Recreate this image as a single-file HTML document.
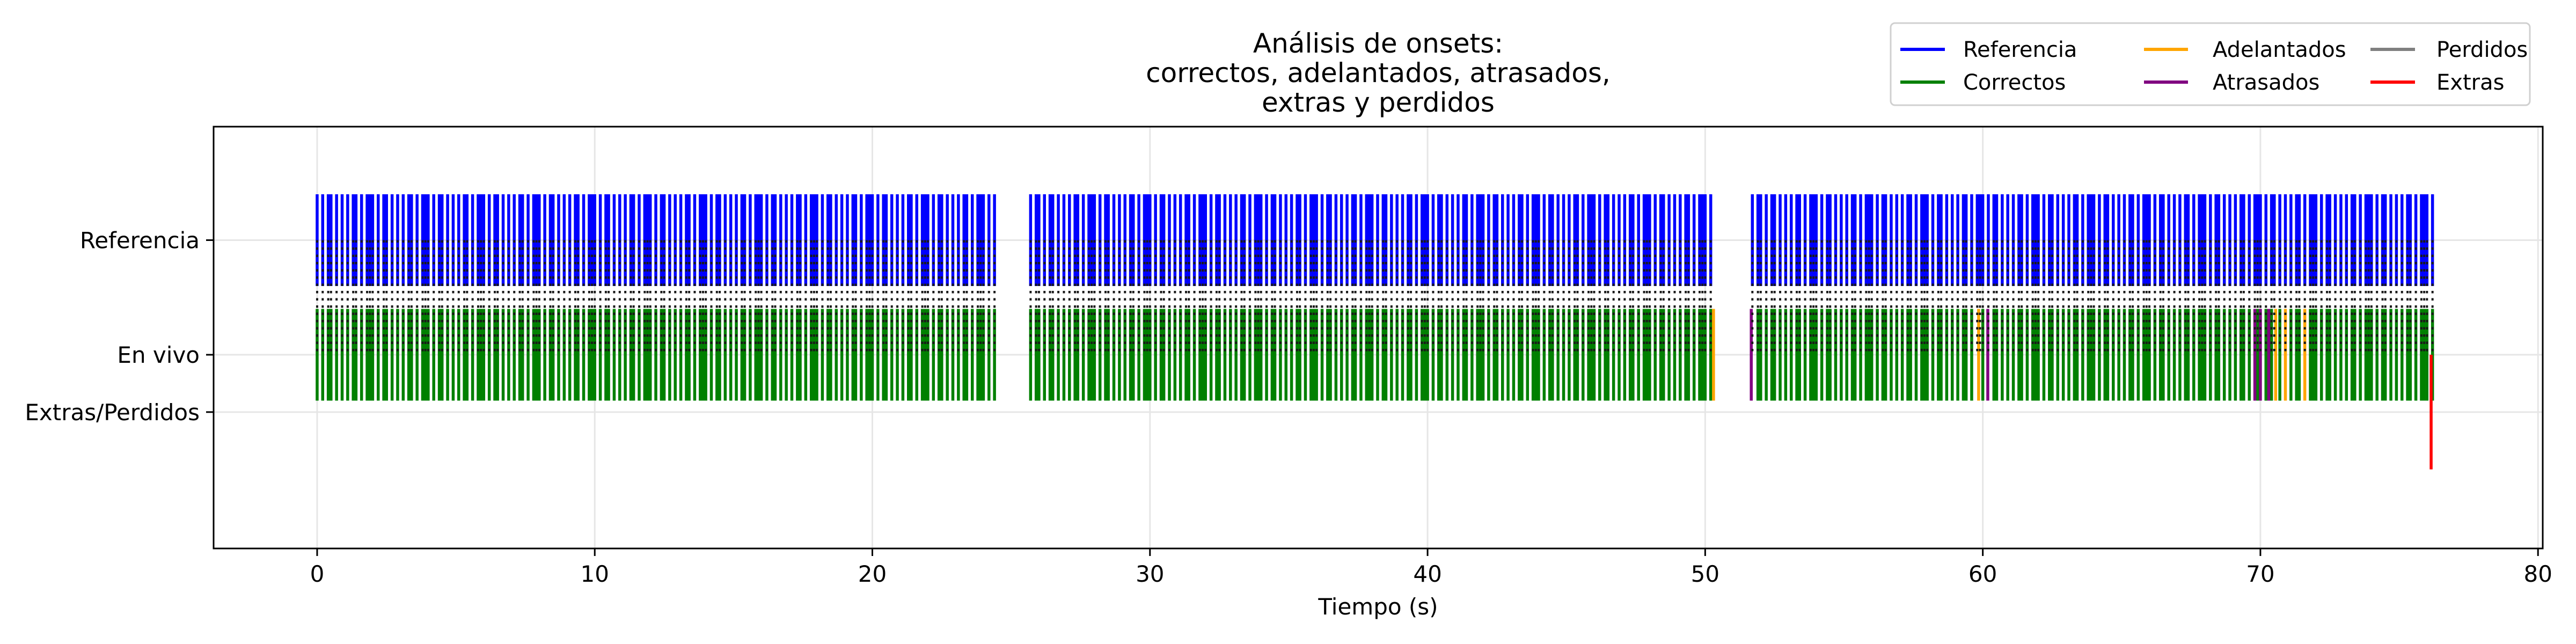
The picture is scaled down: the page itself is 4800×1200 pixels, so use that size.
<!DOCTYPE html>
<html><head><meta charset="utf-8"><style>
html,body{margin:0;padding:0;background:#fff}
svg{display:block;font-family:"DejaVu Sans","Liberation Sans",sans-serif}
</style></head><body>
<svg id="chart" width="4800" height="1200" viewBox="0 0 4800 1200" xmlns="http://www.w3.org/2000/svg">
<rect width="4800" height="1200" fill="#fff"/>
<g id="grid"></g>
<g id="marks"></g>
<rect x="398" y="236" width="4340" height="786" fill="none" stroke="#000" stroke-width="3"/>
<g id="axes"></g>
<g font-size="50" text-anchor="middle" fill="#000">
<text x="2568" y="98">Análisis de onsets:</text>
<text x="2568" y="153">correctos, adelantados, atrasados,</text>
<text x="2568" y="208">extras y perdidos</text>
</g>
<text x="2568" y="1145" font-size="42" text-anchor="middle">Tiempo (s)</text>
<g>
<rect x="3523" y="43" width="1191" height="153" rx="8" fill="#fff" stroke="#d0d0d0" stroke-width="3"/>
<g font-size="40">
<g><line x1="3541" x2="3624" y1="92" y2="92" stroke="blue" stroke-width="6"/><text x="3658" y="106">Referencia</text></g>
<g><line x1="3541" x2="3624" y1="153" y2="153" stroke="green" stroke-width="6"/><text x="3658" y="167">Correctos</text></g>
<g><line x1="3995" x2="4077" y1="92" y2="92" stroke="orange" stroke-width="6"/><text x="4123" y="106">Adelantados</text></g>
<g><line x1="3995" x2="4077" y1="153" y2="153" stroke="purple" stroke-width="6"/><text x="4123" y="167">Atrasados</text></g>
<g><line x1="4417" x2="4500" y1="92" y2="92" stroke="gray" stroke-width="6"/><text x="4540" y="106">Perdidos</text></g>
<g><line x1="4417" x2="4500" y1="153" y2="153" stroke="red" stroke-width="6"/><text x="4540" y="167">Extras</text></g>
</g></g>
</svg>
<script>
const refOnsets = [
0.0,0.2,0.4,0.5,0.7,0.9,1.1,1.3,1.4,1.6,1.8,1.9,2.0,2.2,2.4,2.5,2.7,2.9,3.1,3.3,3.4,3.6,3.8,3.9,4.0,4.2,4.4,4.5,4.7,4.9,5.1,5.3,5.4,5.6,5.8,5.9,
6.0,6.2,6.4,6.5,6.7,6.9,7.1,7.3,7.4,7.6,7.8,7.9,8.0,8.2,8.4,8.5,8.7,8.9,9.1,9.3,9.4,9.6,9.8,9.9,10.0,10.2,10.4,10.5,10.7,10.9,11.1,11.3,11.4,11.6,11.8,11.9,
12.0,12.2,12.4,12.5,12.7,12.9,13.1,13.3,13.4,13.6,13.8,13.9,14.0,14.2,14.4,14.5,14.7,14.9,15.1,15.3,15.4,15.6,15.8,15.9,16.0,16.2,16.4,16.5,16.7,16.9,17.1,17.3,17.4,17.6,17.8,17.9,
18.0,18.2,18.4,18.5,18.7,18.9,19.1,19.3,19.4,19.6,19.8,19.9,20.0,20.2,20.4,20.5,20.7,20.9,21.1,21.3,21.4,21.6,21.8,21.9,22.0,22.2,22.4,22.5,22.7,22.9,23.1,23.3,23.4,23.6,23.8,23.9,24.0,24.2,24.4,
25.7,25.9,26.0,26.2,26.4,26.5,26.7,26.9,27.1,27.3,27.4,27.6,27.8,27.9,28.0,28.2,28.4,28.5,28.7,28.9,29.1,29.3,29.4,29.6,29.8,29.9,30.0,30.2,30.4,30.5,30.7,30.9,31.1,31.3,31.4,31.6,31.8,31.9,
32.0,32.2,32.4,32.5,32.7,32.9,33.1,33.3,33.4,33.6,33.8,33.9,34.0,34.2,34.4,34.5,34.7,34.9,35.1,35.3,35.4,35.6,35.8,35.9,36.0,36.2,36.4,36.5,36.7,36.9,37.1,37.3,37.4,37.6,37.8,37.9,
38.0,38.2,38.4,38.5,38.7,38.9,39.1,39.3,39.4,39.6,39.8,39.9,40.0,40.2,40.4,40.5,40.7,40.9,41.1,41.3,41.4,41.6,41.8,41.9,42.0,42.2,42.4,42.5,42.7,42.9,43.1,43.3,43.4,43.6,43.8,43.9,
44.0,44.2,44.4,44.5,44.7,44.9,45.1,45.3,45.4,45.6,45.8,45.9,46.0,46.2,46.4,46.5,46.7,46.9,47.1,47.3,47.4,47.6,47.8,47.9,48.0,48.2,48.4,48.5,48.7,48.9,49.1,49.3,49.4,49.6,49.8,49.9,50.0,50.2,
51.7,51.9,52.0,52.2,52.4,52.5,52.7,52.9,53.1,53.3,53.4,53.6,53.8,53.9,54.0,54.2,54.4,54.5,54.7,54.9,55.1,55.3,55.4,55.6,55.8,55.9,56.0,56.2,56.4,56.5,56.7,56.9,57.1,57.3,57.4,57.6,57.8,57.9,
58.0,58.2,58.4,58.5,58.7,58.9,59.1,59.3,59.4,59.6,59.8,59.9,60.0,60.2,60.4,60.5,60.7,60.9,61.1,61.3,61.4,61.6,61.8,61.9,62.0,62.2,62.4,62.5,62.7,62.9,63.1,63.3,63.4,63.6,63.8,63.9,
64.0,64.2,64.4,64.5,64.7,64.9,65.1,65.3,65.4,65.6,65.8,65.9,66.0,66.2,66.4,66.5,66.7,66.9,67.1,67.3,67.4,67.6,67.8,67.9,68.0,68.2,68.4,68.5,68.7,68.9,69.1,69.3,69.4,69.6,69.8,69.9,
70.0,70.2,70.4,70.5,70.7,70.9,71.1,71.3,71.4,71.6,71.8,71.9,72.0,72.2,72.4,72.5,72.7,72.9,73.1,73.3,73.4,73.6,73.8,73.9,74.0,74.2,74.4,74.5,74.7,74.9,75.1,75.3,75.4,75.6,75.8,75.9,76.0,76.2
];
const earlyOnsets = [50.3, 59.85, 70.55, 70.9, 71.6];
const lateOnsets = [51.66, 60.18, 69.8, 70.0, 70.3];
const missedOnsets = [];
const extraOnsets = [76.15];
const xTicks = [0, 10, 20, 30, 40, 50, 60, 70, 80];
const yTickLabels = ["Referencia", "En vivo", "Extras/Perdidos"];
const yTickValues = [1, 0, -0.5];

const NS = "http://www.w3.org/2000/svg";
const X0 = 398, X1 = 4738, Y0 = 236, Y1 = 1022;
const XMIN = -3.73, XMAX = 80.17, YMIN = -1.69, YMAX = 1.99;
const xs = v => X0 + (v - XMIN) / (XMAX - XMIN) * (X1 - X0);
const ys = v => Y1 - (v - YMIN) / (YMAX - YMIN) * (Y1 - Y0);
function mk(tag, attrs, parent) {
  const e = document.createElementNS(NS, tag);
  for (const k in attrs) e.setAttribute(k, attrs[k]);
  parent.appendChild(e);
  return e;
}
const grid = document.getElementById("grid");
const marks = document.getElementById("marks");
const axes = document.getElementById("axes");

xTicks.forEach(t => {
  const g = mk("line", {x1: xs(t), x2: xs(t), y1: Y0, y2: Y1, stroke: "#e6e6e6", "stroke-width": 3}, grid);
  
  
  const tk = mk("line", {x1: xs(t), x2: xs(t), y1: Y1, y2: Y1 + 14, stroke: "#000", "stroke-width": 3}, axes);
  
  
  const tx = mk("text", {x: xs(t), y: Y1 + 62, "font-size": 42, "text-anchor": "middle"}, axes);
  tx.textContent = t;
  
  
});
yTickValues.forEach((v, i) => {
  const g = mk("line", {x1: X0, x2: X1, y1: ys(v), y2: ys(v), stroke: "#e6e6e6", "stroke-width": 3}, grid);
  
  
  const tk = mk("line", {x1: X0 - 14, x2: X0, y1: ys(v), y2: ys(v), stroke: "#000", "stroke-width": 3}, axes);
  
  
  const tx = mk("text", {x: X0 - 26, y: ys(v) + 15, "font-size": 42, "text-anchor": "end"}, axes);
  tx.textContent = yTickLabels[i];
  
  
});

function bar(x, y1, y2, color, w) {
  return mk("line", {x1: xs(x), x2: xs(x), y1: ys(y1), y2: ys(y2), stroke: color, "stroke-width": w}, marks);
}
refOnsets.forEach(t => {
  const b = bar(t, 1.4, 0.6, "blue", 5.5);
  
  
});
const special = earlyOnsets.concat(lateOnsets, missedOnsets);
refOnsets.forEach(t => {
  if (special.some(s => Math.abs(s - t) < 0.08)) return;
  const b = bar(t, 0.4, -0.4, "green", 5.5);
  
  
});
earlyOnsets.forEach(t => {
  const b = bar(t, 0.4, -0.4, "orange", 5.5);
  
  
});
lateOnsets.forEach(t => {
  const b = bar(t, 0.4, -0.4, "purple", 5.5);
  
  
});
missedOnsets.forEach(t => {
  const b = bar(t, 0, -1, "gray", 5.5);
  
  
});
refOnsets.forEach(t => {
  const c = mk("line", {x1: xs(t), x2: xs(t), y1: ys(1), y2: ys(0), stroke: "#1a1a1a", "stroke-width": 4, "stroke-dasharray": "4.5 9"}, marks);
  
  
});
extraOnsets.forEach(t => {
  const b = bar(t, 0, -1, "red", 5.5);
  
  
});
</script>
</body></html>
